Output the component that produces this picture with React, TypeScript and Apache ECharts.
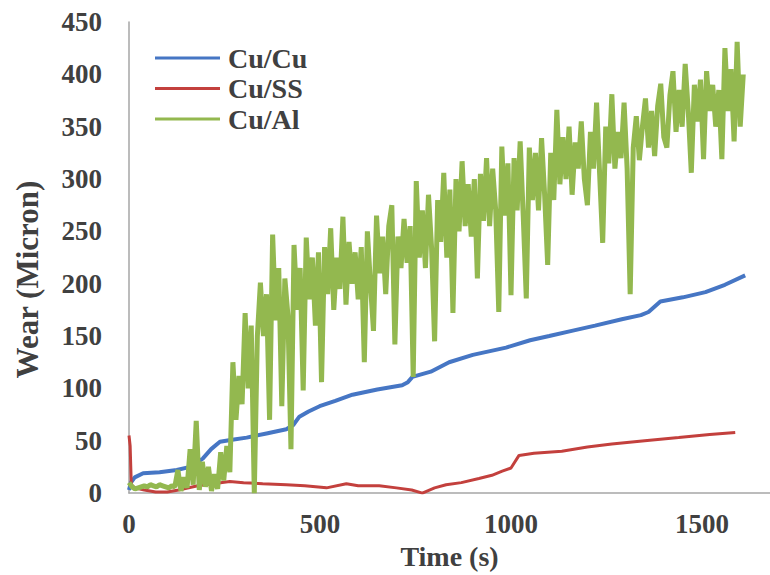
import React, { useEffect, useRef } from "react";
import * as echarts from "echarts";

// ---- Data ----
const seriesNames = ["Cu/Cu", "Cu/SS", "Cu/Al"];
const xTicks = [0, 500, 1000, 1500];
const yTicks = [0, 50, 100, 150, 200, 250, 300, 350, 400, 450];

// Cu/Cu : [time (s), wear (micron)]
const cuCu: [number, number][] = [
  [0, 3], [5, 10], [15, 15], [37, 19], [80, 20], [125, 22], [160, 25], [193, 33],
  [215, 42], [238, 49], [270, 51], [308, 53], [360, 57], [412, 61], [430, 65],
  [446, 73], [470, 78], [499, 83], [540, 88], [585, 94], [650, 99], [715, 103],
  [730, 106], [742, 111], [790, 116], [838, 125], [900, 132], [987, 139],
  [1050, 146], [1100, 150], [1159, 155], [1220, 160], [1290, 166], [1340, 170],
  [1360, 173], [1391, 183], [1450, 187], [1509, 192], [1560, 199], [1613, 208],
];

// Cu/SS
const cuSS: [number, number][] = [
  [0, 55], [3, 45], [6, 8], [15, 5], [40, 3], [70, 1], [100, 1], [130, 3],
  [180, 7], [220, 9], [264, 11], [300, 10], [350, 9], [412, 8], [460, 7],
  [517, 5], [569, 9], [600, 7], [655, 7], [700, 5], [740, 3], [768, 0],
  [800, 5], [830, 8], [870, 10], [916, 14], [950, 17], [977, 21], [1000, 24],
  [1021, 36], [1060, 38], [1133, 40], [1200, 44], [1264, 47], [1350, 50],
  [1439, 53], [1520, 56], [1587, 58],
];

// Cu/Al : sampled every 8 s from t = 0
const cuAlStep = 8;
const cuAl: number[] = [
  10, 6, 4,
  5, 6, 7, 6, 8, 7, 6, 8, 7, 6, 5, 7, 6,
  22, 2, 15, 5, 42, 8, 69, 3, 30, 6, 25, 2, 18, 4,
  39, 12, 45, 20, 125, 70, 112, 85, 172, 100, 160, 0, 150,
  201, 150, 190, 70, 247, 165, 215, 83,
  205, 170, 42, 237, 175, 215, 98, 244, 185, 225, 160, 230,
  106, 235, 190, 253, 175, 225, 195, 264, 180, 240, 200, 230, 185,
  235, 125, 250, 200, 155, 265, 210, 245, 190, 255, 275, 142, 245,
  215, 262, 220, 255, 111, 298, 225, 270, 215, 285, 235, 145,
  280, 240, 306, 225, 290, 172, 300, 250, 317, 255, 295, 245, 300,
  205, 305, 260, 320, 255, 310, 270, 173, 331, 265, 315, 189,
  320, 270, 336, 265, 186, 330, 280, 325, 270, 339, 285, 218,
  325, 280, 366, 295, 340, 300, 350, 285, 335, 310, 355, 300, 275,
  345, 310, 373, 305, 239, 350, 315, 381, 310, 345, 320, 373, 310,
  190, 330, 360, 318, 350, 377, 330, 365, 322, 370, 391, 340,
  330, 380, 403, 345, 385, 350, 410, 365, 306, 390, 355, 395,
  319, 403, 365, 390, 350, 385, 319, 425, 365, 405, 336, 431, 350, 400,
];

const colors = ["#4676C4", "#C3403D", "#93B84F"];
const textColor = "#404040";
const fontFamily = "'Liberation Serif', 'Times New Roman', serif";

export default function App() {
  const ref = useRef<HTMLDivElement>(null);

  useEffect(() => {
    document.body.style.margin = "0";
    if (!ref.current) return;
    const chart = echarts.init(ref.current, null, { renderer: "svg" });
    const alData = cuAl.map((v, i) => [i * cuAlStep, v]);
    chart.setOption({
      animation: false,
      backgroundColor: "#ffffff",
      color: colors,
      grid: { left: 129, right: 0, top: 22, bottom: 69, containLabel: false },
      legend: {
        data: seriesNames,
        orient: "vertical",
        left: 150,
        top: 39,
        icon: "rect",
        itemWidth: 65,
        itemHeight: 3,
        itemGap: 2.5,
        textStyle: {
          fontFamily,
          fontWeight: "bold",
          fontSize: 28,
          lineHeight: 28,
          color: textColor,
          padding: [0, 0, 0, 3],
        },
      },
      xAxis: {
        type: "value",
        min: 0,
        max: 1678,
        interval: 500,
        name: "Time (s)",
        nameLocation: "middle",
        nameGap: 40,
        nameTextStyle: { fontFamily, fontWeight: "bold", fontSize: 28, color: textColor },
        axisLine: { show: true, lineStyle: { color: "#A6A6A6", width: 1.5 } },
        axisTick: { show: false },
        splitLine: { show: false },
        axisLabel: {
          showMaxLabel: false,
          margin: 17,
          fontFamily,
          fontWeight: "bold",
          fontSize: 27,
          color: textColor,
          formatter: (v: number) => (xTicks.includes(v) ? String(v) : ""),
        },
      },
      yAxis: {
        type: "value",
        min: 0,
        max: 450,
        interval: 50,
        name: "Wear (Micron)",
        nameLocation: "middle",
        nameGap: 86,
        nameRotate: 90,
        nameTextStyle: {
          fontFamily,
          fontWeight: "bold",
          fontSize: 31,
          color: textColor,
          padding: [0, 44, 0, 0],
        },
        axisLine: { show: true, lineStyle: { color: "#A6A6A6", width: 1.5 } },
        axisTick: { show: false },
        splitLine: { show: false },
        axisLabel: {
          margin: 27,
          fontFamily,
          fontWeight: "bold",
          fontSize: 27,
          color: textColor,
          formatter: (v: number) => (yTicks.includes(v) ? String(v) : ""),
        },
      },
      series: [
        {
          name: seriesNames[0],
          type: "line",
          data: cuCu,
          showSymbol: false,
          lineStyle: { width: 4, color: colors[0] },
          itemStyle: { color: colors[0] },
        },
        {
          name: seriesNames[1],
          type: "line",
          data: cuSS,
          showSymbol: false,
          lineStyle: { width: 3, color: colors[1] },
          itemStyle: { color: colors[1] },
        },
        {
          name: seriesNames[2],
          type: "line",
          data: alData,
          showSymbol: false,
          lineStyle: { width: 5, color: colors[2] },
          itemStyle: { color: colors[2] },
        },
      ],
    });
    return () => chart.dispose();
  }, []);

  return <div ref={ref} style={{ width: 770, height: 575 }} />;
}
